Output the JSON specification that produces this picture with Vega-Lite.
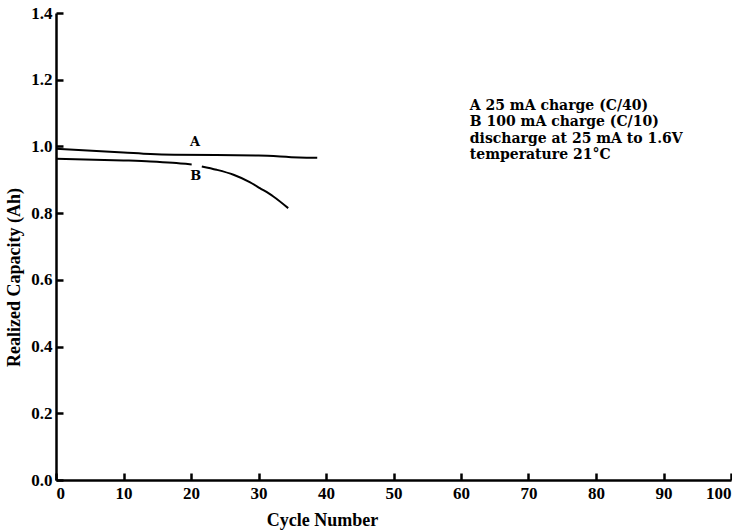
{
  "$schema": "https://vega.github.io/schema/vega-lite/v6.json",
  "autosize": {"type": "none"},
  "padding": {"left": 56, "top": 13, "right": 1, "bottom": 52},
  "width": 675,
  "height": 467,
  "background": "white",
  "config": {
    "view": {"stroke": null},
    "font": "Liberation Serif",
    "axis": {
      "grid": false,
      "domainColor": "black",
      "domainWidth": 2.5,
      "tickColor": "black",
      "tickWidth": 2.5,
      "tickSize": -7,
      "labelColor": "black",
      "labelFont": "Liberation Serif",
      "labelFontSize": 17,
      "labelFontWeight": "bold",
      "titleColor": "black",
      "titleFont": "Liberation Serif",
      "titleFontSize": 18,
      "titleFontWeight": "bold"
    }
  },
  "datasets": {
    "curves": [
      {"series": "A", "seg": "A", "cycle": 0, "cap": 0.993},
      {"series": "A", "seg": "A", "cycle": 10, "cap": 0.982},
      {"series": "A", "seg": "A", "cycle": 14, "cap": 0.977},
      {"series": "A", "seg": "A", "cycle": 17.5, "cap": 0.975},
      {"series": "A", "seg": "A", "cycle": 30, "cap": 0.973},
      {"series": "A", "seg": "A", "cycle": 36, "cap": 0.967},
      {"series": "A", "seg": "A", "cycle": 38.7, "cap": 0.966},
      {"series": "B", "seg": "B1", "cycle": 0, "cap": 0.963},
      {"series": "B", "seg": "B1", "cycle": 10, "cap": 0.958},
      {"series": "B", "seg": "B1", "cycle": 14, "cap": 0.955},
      {"series": "B", "seg": "B1", "cycle": 17.3, "cap": 0.951},
      {"series": "B", "seg": "B1", "cycle": 20.1, "cap": 0.946},
      {"series": "B", "seg": "B2", "cycle": 21.6, "cap": 0.94},
      {"series": "B", "seg": "B2", "cycle": 23.8, "cap": 0.93},
      {"series": "B", "seg": "B2", "cycle": 26.3, "cap": 0.915},
      {"series": "B", "seg": "B2", "cycle": 28.7, "cap": 0.893},
      {"series": "B", "seg": "B2", "cycle": 30.2, "cap": 0.875},
      {"series": "B", "seg": "B2", "cycle": 32.2, "cap": 0.85},
      {"series": "B", "seg": "B2", "cycle": 34.4, "cap": 0.815}
    ],
    "labels": [
      {"label": "A", "cycle": 20.6, "cap": 1.0015},
      {"label": "B", "cycle": 20.7, "cap": 0.9}
    ],
    "notes": [
      {"text": "A 25 mA charge (C/40)", "cycle": 61.3, "cap": 1.1094},
      {"text": "B 100 mA charge (C/10)", "cycle": 61.3, "cap": 1.06},
      {"text": "discharge at 25 mA to 1.6V", "cycle": 61.3, "cap": 1.0105},
      {"text": "temperature 21°C", "cycle": 61.3, "cap": 0.961}
    ]
  },
  "layer": [
    {
      "data": {"name": "curves"},
      "mark": {"type": "line", "color": "black", "strokeWidth": 2, "interpolate": "monotone"},
      "encoding": {
        "x": {
          "field": "cycle", "type": "quantitative",
          "scale": {"domain": [0, 100], "nice": false, "zero": false},
          "axis": {
            "values": [0, 10, 20, 30, 40, 50, 60, 70, 80, 90, 100],
            "labelFlush": true,
            "labelPadding": 12,
            "title": "Cycle Number",
            "titleX": 266,
            "titleY": 40,
            "titleBaseline": "middle"
          }
        },
        "y": {
          "field": "cap", "type": "quantitative",
          "scale": {"domain": [0, 1.4], "nice": false, "zero": false},
          "axis": {
            "values": [0, 0.2, 0.4, 0.6, 0.8, 1.0, 1.2, 1.4],
            "format": ".1f",
            "labelPadding": 11,
            "title": "Realized Capacity (Ah)",
            "titleX": -42,
            "titleY": 264,
            "titleAngle": -90,
            "titleAlign": "center",
            "titleBaseline": "middle"
          }
        },
        "detail": {"field": "seg", "type": "nominal"}
      }
    },
    {
      "data": {"name": "labels"},
      "mark": {"type": "text", "color": "black", "font": "DejaVu Serif", "fontWeight": "bold", "fontSize": 13, "align": "center", "baseline": "alphabetic"},
      "encoding": {
        "x": {"field": "cycle", "type": "quantitative"},
        "y": {"field": "cap", "type": "quantitative"},
        "text": {"field": "label"}
      }
    },
    {
      "data": {"name": "notes"},
      "mark": {"type": "text", "color": "black", "font": "DejaVu Serif", "fontWeight": "bold", "fontSize": 14, "align": "left", "baseline": "alphabetic"},
      "encoding": {
        "x": {"field": "cycle", "type": "quantitative"},
        "y": {"field": "cap", "type": "quantitative"},
        "text": {"field": "text"}
      }
    }
  ]
}
